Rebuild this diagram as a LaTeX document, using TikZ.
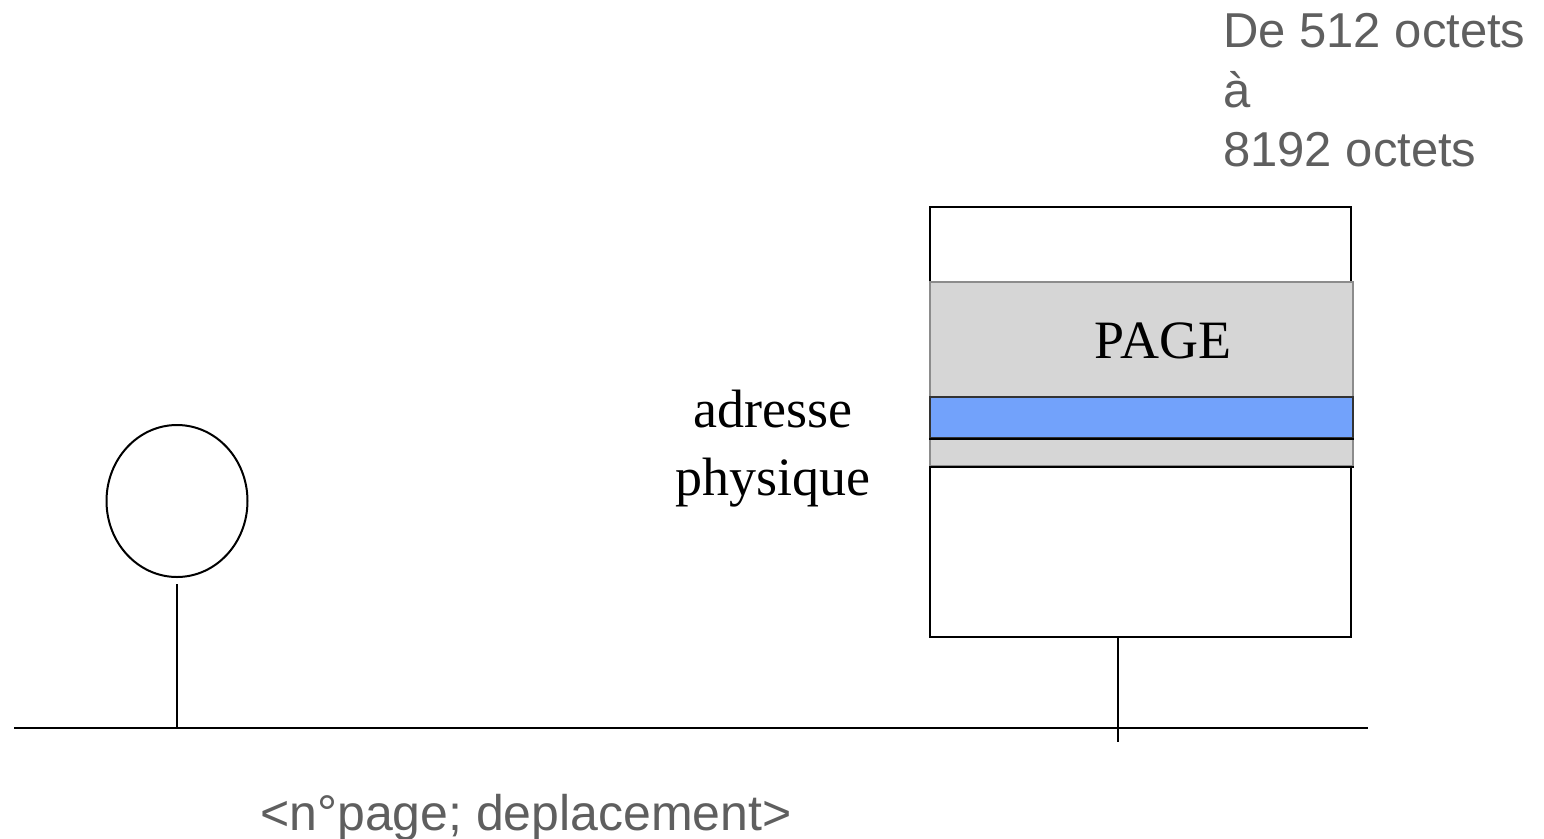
\documentclass[tikz,border=0pt]{standalone}
\usepackage{fontspec}
\setmainfont{Liberation Serif}
\newfontfamily\labelsans{Liberation Sans}
\usetikzlibrary{shapes.geometric}

\definecolor{notegray}{HTML}{5F5F5F}
\definecolor{bandgray}{HTML}{D6D6D6}
\definecolor{bandedge}{HTML}{8C8C8C}
\definecolor{offsetblue}{HTML}{72A2FB}

\tikzset{
  wire/.style={line width=2pt, black},
  note/.style={inner sep=0pt, text=notegray, font=\labelsans\fontsize{49}{59}\selectfont},
  serifnote/.style={inner sep=0pt, text=black, font=\fontsize{54}{60}\selectfont},
}

\begin{document}
\begin{tikzpicture}[x=1pt, y=-1pt]
  \useasboundingbox (0,0) rectangle (1544,838);

  % bus
  \coordinate (busL) at (14,728);
  \coordinate (busR) at (1368,728);
  \draw[wire] (busL) -- (busR);

  % processor
  \node[draw, line width=2pt, ellipse, minimum width=141pt, minimum height=152pt, inner sep=0pt] (proc) at (177,501) {};
  \draw[wire] (proc.south) ++(0,6) -- (proc.south |- busL);

  % memory
  \node[draw, line width=2pt, fill=white, minimum width=421pt, minimum height=430pt, inner sep=0pt] (mem) at (1140.5,422) {};
  \node[fill=bandgray, draw=bandedge, line width=1.5pt, minimum width=423pt, minimum height=184pt, inner sep=0pt] (page) at (1141.5,374) {};
  \node[fill=offsetblue, draw=black!80, line width=1.5pt, minimum width=423pt, minimum height=41pt, inner sep=0pt] (word) at (1141.5,417.5) {};
  \draw[wire] (word.south west) -- (word.south east);
  \draw[wire] (page.south west) -- (page.south east);
  \draw[wire] (mem.south) ++(-22.5,0) coordinate (tap) -- (tap |- busL) -- ++(0,14);

  % labels
  \node[serifnote, anchor=base] (pagelbl) at (1163,358) {PAGE};
  \node[serifnote, anchor=base] (addr1) at (773,427) {adresse};
  \node[serifnote, anchor=base] (addr2) at (773,495) {physique};

  \node[note, anchor=base west] (size1) at (1223,47) {De 512 octets};
  \node[note, anchor=base west] (size2) at (1223,107) {à};
  \node[note, anchor=base west] (size3) at (1223,166) {8192 octets};

  \node[note, font=\labelsans\fontsize{50}{60}\selectfont, anchor=base west] (fmt) at (260,830) {<n°page; deplacement>};
\end{tikzpicture}
\end{document}
